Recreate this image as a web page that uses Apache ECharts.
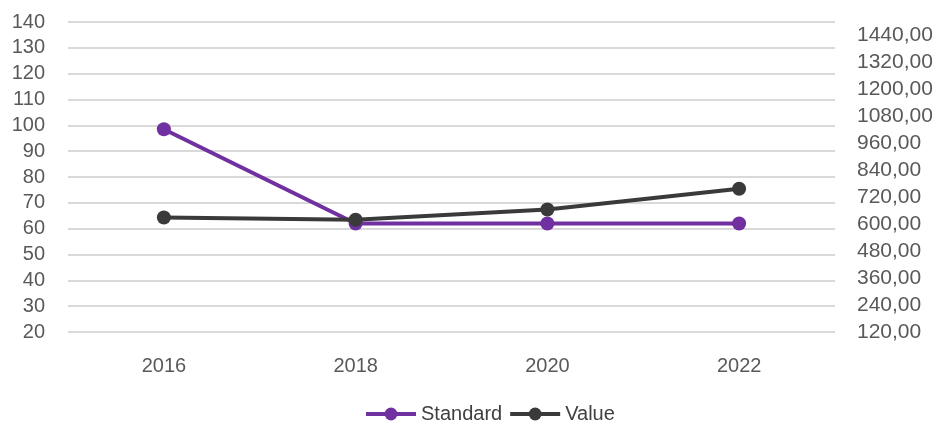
<!DOCTYPE html>
<html>
<head>
<meta charset="utf-8">
<script src="https://cdn.jsdelivr.net/npm/echarts@6/dist/echarts.min.js"></script>
<style>
  html, body { margin: 0; padding: 0; background: #fff; }
  #chart { width: 939px; height: 423px; }
</style>
</head>
<body>
<div id="chart"></div>
<script>
    // categories and values
    var years = ['2016', '2018', '2020', '2022'];
    var standard = [98.5, 62, 62, 62];
    var value = [630, 620, 665, 758];

    var labelFont = { fontFamily: 'Liberation Sans', fontSize: 20, color: '#595959' };

    var chart = echarts.init(document.getElementById('chart'));
    chart.setOption({
        animation: false,
        grid: { left: 68, right: 104, top: 22, bottom: 91 },
        legend: {
            top: 399,
            left: 359,
            itemWidth: 50,
            itemHeight: 16,
            itemGap: 6,
            lineStyle: { width: 4 },
            textStyle: { fontFamily: 'Liberation Sans', fontSize: 20, color: '#404040' },
            data: ['Standard', 'Value']
        },
        xAxis: {
            type: 'category',
            data: years,
            boundaryGap: true,
            axisLine: { show: false },
            axisTick: { show: false },
            axisLabel: Object.assign({ margin: 24 }, labelFont)
        },
        yAxis: [
            {
                type: 'value',
                min: 20, max: 140, interval: 10,
                axisLine: { show: false },
                axisTick: { show: false },
                splitLine: { lineStyle: { color: '#d9d9d9', width: 2 } },
                axisLabel: Object.assign({ margin: 23 }, labelFont)
            },
            {
                type: 'value',
                position: 'right',
                min: 120, max: 1500, interval: 120,
                axisLine: { show: false },
                axisTick: { show: false },
                splitLine: { show: false },
                axisLabel: Object.assign({
                    margin: 22,
                    showMaxLabel: false,
                    formatter: function (v) {
                        if (v > 1440) return '';
                        return v.toFixed(2).replace('.', ',');
                    }
                }, labelFont, { fontSize: 21 })
            }
        ],
        series: [
            {
                name: 'Standard',
                type: 'line',
                yAxisIndex: 0,
                data: standard,
                symbol: 'circle',
                symbolSize: 14,
                color: '#7030a0',
                lineStyle: { width: 4 },
                z: 2
            },
            {
                name: 'Value',
                type: 'line',
                yAxisIndex: 1,
                data: value,
                symbol: 'circle',
                symbolSize: 14,
                color: '#3a3a3a',
                lineStyle: { width: 4 },
                z: 3
            }
        ]
    });
</script>
</body>
</html>
